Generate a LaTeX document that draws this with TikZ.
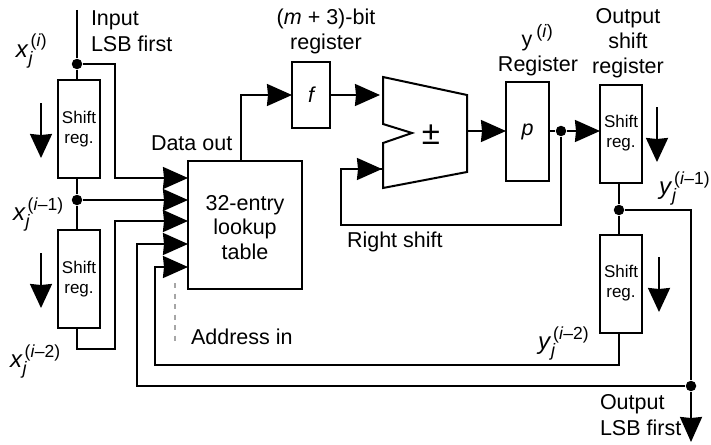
\documentclass[tikz,border=0pt]{standalone}
\usepackage{fontspec}
\setmainfont{Liberation Sans}
\usetikzlibrary{arrows.meta,positioning,calc}
\newcommand{\seqsym}[3]{{\fontsize{24}{24}\selectfont #1}\rlap{\kern2pt\raisebox{10pt}{\fontsize{17.5}{18}\selectfont #3}}\raisebox{-7pt}{\fontsize{18}{18}\selectfont\textit{#2}}}

\begin{document}
\begin{tikzpicture}[
  x=1pt, y=-1pt,
  line width=2pt,
  lbl/.style={inner sep=0pt, outer sep=0pt, font=\fontsize{21.5}{24.5}\selectfont},
  sreg/.style={draw, fill=white, outer sep=0pt, minimum width=42pt, minimum height=98pt,
    inner sep=0pt, align=center, font=\fontsize{17}{20}\selectfont},
  regbox/.style={draw, fill=white, outer sep=0pt, inner sep=0pt, font=\fontsize{21.5}{24}\selectfont\itshape},
  dot/.style={circle, fill=black, inner sep=0pt, minimum size=10.5pt},
  flow/.style={-{Stealth[length=25pt,width=22pt,inset=1pt]}},
  shiftdir/.style={-{Stealth[length=24pt,width=22pt,inset=1pt]}}
]
  \useasboundingbox (0,0) rectangle (711,444);

  \node[sreg] (sa) at (79,129) {Shift\\reg.};
  \node[sreg, below=52pt of sa] (sb) {Shift\\reg.};
  \node[sreg] (sc) at (621,133.5) {Shift\\reg.};
  \node[sreg, below=52pt of sc] (sd) {Shift\\reg.};
  \node[draw, outer sep=0pt, inner sep=0pt, minimum width=114pt, minimum height=128pt, align=center,
    font=\fontsize{21.5}{24.5}\selectfont] (lut) at (245,225) {\rule{0pt}{20pt}32-entry\\lookup\\table};
  \node[regbox, minimum width=38pt, minimum height=66pt] (fr) at (311,95) {\textit{f}};
  \node[regbox, minimum width=43pt, minimum height=99pt] (pr) at (527.5,131.5) {\textit{p}};
  \draw (383,77) -- (467,95) -- (467,172) -- (383,188) -- (383,143) -- (412,133) -- (383,124) -- cycle;
  \node[lbl, font=\fontsize{33}{33}\selectfont] (pm) at (431,135) {±};

  \node[dot] (da) at (77,64) {};
  \node[dot] (db) at (77,200) {};
  \node[dot] (dc) at (561,131) {};
  \node[dot] (dd) at (619,210) {};
  \node[dot] (de) at (691,386) {};

  \coordinate (top) at (77,10);
  \coordinate (bot) at (691,442);
  \coordinate (addup) at (380,95);
  \coordinate (addlo) at (382,169);
  \coordinate (addout) at (467,131);
  \coordinate (pin) at (506,131);
  \coordinate (gapa) at (175,283);
  \coordinate (gapb) at (175,342);

  \draw (top) -- (da) -- (da |- sa.north);
  \draw (db |- sa.south) -- (db) -- (db |- sb.north);
  \draw[flow] (da) -- (115,64) -- (115,178) -- (lut.west |- 0,178);
  \draw[flow] (db) -- (lut.west |- db);
  \draw[flow] (77,329) -- (77,349) -- (115,349) -- (115,221) -- (lut.west |- 0,221);
  \draw[flow] (de) -- (137,386) -- (137,244) -- (lut.west |- 0,244);
  \draw[flow] (619,332) -- (619,365) -- (155,365) -- (155,267) -- (lut.west |- 0,267);
  \draw[flow] (lut.north -| 241,0) -- (241,95) -- (fr.west);
  \draw[flow] (fr.east) -- (addup);
  \draw[flow] (addout) -- (pin);
  \draw (pr.east |- dc) -- (dc);
  \draw[flow] (dc) -- (sc.west |- dc);
  \draw (dc) -- (561,225) -- (341,225) -- (341,169) -- (383,169);
  \draw[flow] (341,169) -- (addlo);
  \draw (619,183) -- (dd) -- (619,235);
  \draw (dd) -- (691,210) -- (de);
  \draw[flow] (de) -- (bot);
  \draw[gray!70, line width=2.5pt, dash pattern=on 5pt off 5.5pt] (gapa) -- (gapb);

  \draw[shiftdir] (41,103) -- (41,158);
  \draw[shiftdir] (41,253) -- (41,308);
  \draw[shiftdir] (657,107) -- (657,162);
  \draw[shiftdir] (659,257) -- (659,312);

  \node[lbl, anchor=base west, align=left] (inlbl) at (91,52) {Input\\[1.5pt]LSB first};
  \node[lbl, anchor=base west] (dolbl) at (151,150) {Data out};
  \node[lbl, anchor=base, align=center] (mlbl) at (326,49) {(\textit{m} + 3)-bit\\register};
  \node[lbl, anchor=base, align=center] (rlbl) at (538,71) {y\rlap{\kern4pt\raisebox{9pt}{\fontsize{18}{18}\selectfont(\textit{i})}}\phantom{\kern22pt}\\Register};
  \node[lbl, anchor=base, align=center] (olbl) at (628,73) {Output\\shift\\register};
  \node[lbl, anchor=base west] (rslbl) at (347,247) {Right shift};
  \node[lbl, anchor=base west] (adlbl) at (191,344) {Address in};
  \node[lbl, anchor=base west, align=left] (outlbl) at (600,435) {Output\\[1.5pt]LSB first};

  \node[lbl, anchor=base west] (xa) at (16,57) {\seqsym{\textit{x}}{j}{(\textit{i})}};
  \node[lbl, anchor=base west] (xb) at (13,220) {\seqsym{\textit{x}}{j}{(\textit{i}–1)}};
  \node[lbl, anchor=base west] (xc) at (10,367) {\seqsym{\textit{x}}{j}{(\textit{i}–2)}};
  \node[lbl, anchor=base west] (ya) at (659,194) {\seqsym{\textit{y}}{j}{(\textit{i}–1)}};
  \node[lbl, anchor=base west] (yb) at (538,349) {\seqsym{\textit{y}}{j}{(\textit{i}–2)}};
\end{tikzpicture}
\end{document}
